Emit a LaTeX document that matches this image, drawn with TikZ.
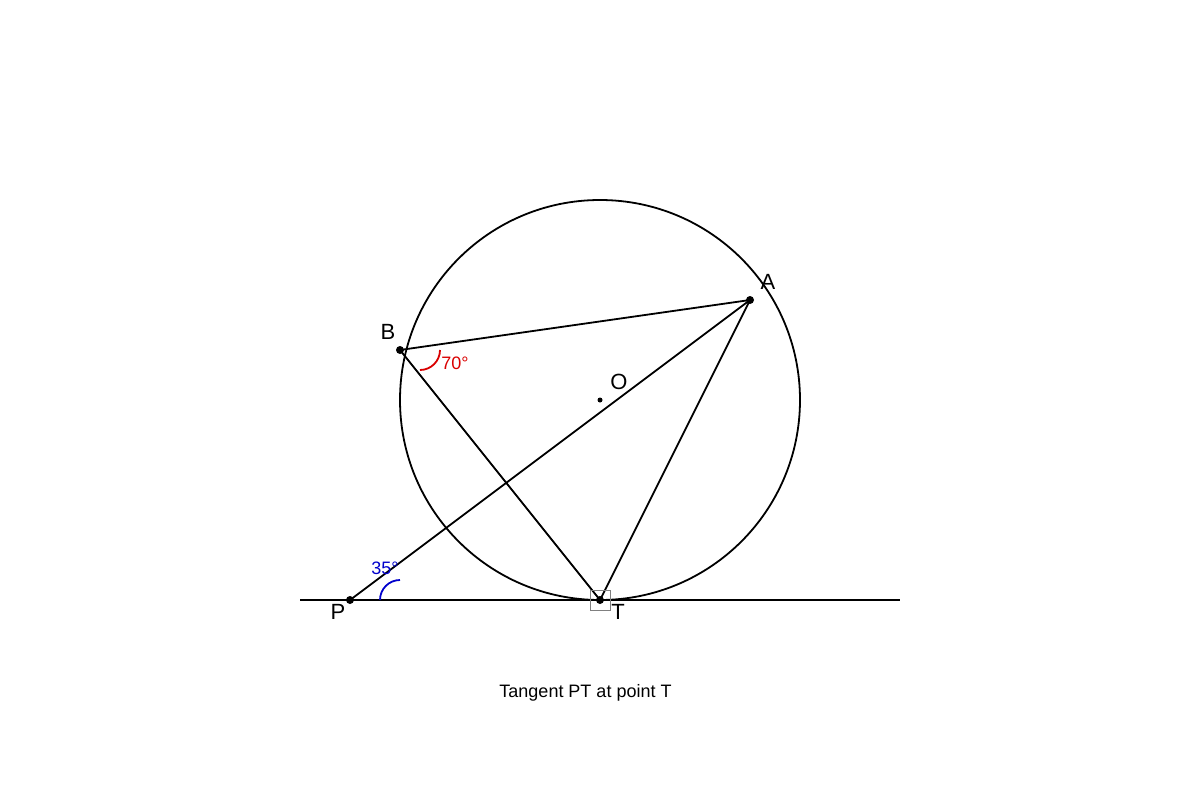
\documentclass[tikz,border=0pt]{standalone}
\usepackage{fontspec}
\setmainfont{Liberation Sans}
\begin{document}
\begin{tikzpicture}[x=1pt,y=-1pt,
  ln/.style={line width=1.8pt,black},
  dot/.style={circle,fill=black,inner sep=0pt,minimum size=8pt},
  lbl/.style={font=\fontsize{22}{24}\selectfont,inner sep=0pt},
  ang/.style={font=\fontsize{18}{20}\selectfont,inner sep=0pt}]
\useasboundingbox (0,0) rectangle (1200,800);
\coordinate (O) at (600,400);
\coordinate (T) at (600,600);
\coordinate (A) at (750,300);
\coordinate (B) at (400,350);
\coordinate (P) at (350,600);
\coordinate (L) at (300,600);
\coordinate (R) at (900,600);
\draw[ln] (O) circle[radius=200];
\draw[ln] (L) -- (R);
\draw[ln] (B) -- (A);
\draw[ln] (B) -- (T);
\draw[ln] (T) -- (A);
\draw[ln] (P) -- (A);
\draw[gray,line width=1pt] (590,590) rectangle (610,610);
\draw[red!85!black,line width=1.8pt] (420,370) arc[start angle=90,end angle=0,radius=20];
\draw[blue!80!black,line width=1.8pt] (380,600) arc[start angle=180,end angle=270,radius=20];
\node[dot] (Pd) at (P) {};
\node[dot] (Td) at (T) {};
\node[dot] (Ad) at (A) {};
\node[dot] (Bd) at (B) {};
\node[circle,fill=black,inner sep=0pt,minimum size=5pt] (Od) at (O) {};
\node[lbl] (Al) at (768,282) {A};
\node[lbl] (Bl) at (388,332) {B};
\node[lbl] (Ol) at (619,382) {O};
\node[lbl] (Pl) at (338,612) {P};
\node[lbl] (Tl) at (618,612) {T};
\node[ang,text=red!85!black] (a70) at (455,363) {70°};
\node[ang,text=blue!80!black] (a35) at (385,568) {35°};
\node[font=\fontsize{18}{20}\selectfont,inner sep=0pt] (cap) at (585.5,693) {Tangent PT at point T};
\end{tikzpicture}
\end{document}
